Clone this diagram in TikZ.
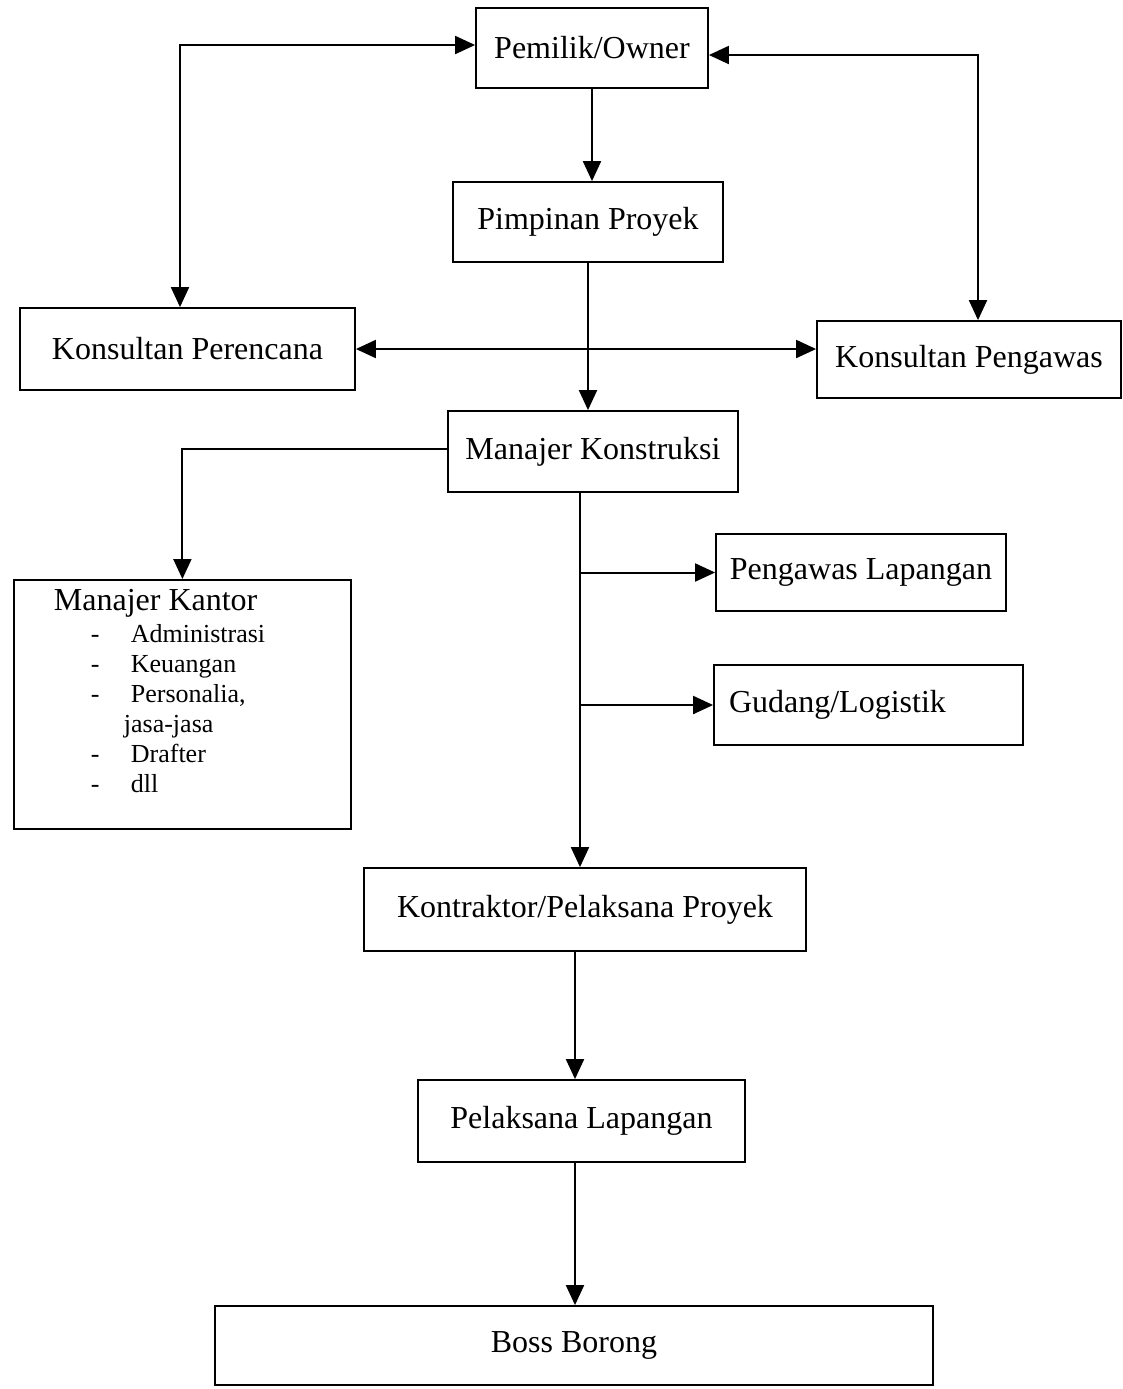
\documentclass[tikz,border=0pt]{standalone}
\usepackage{fontspec}
\setmainfont{Liberation Serif}
\usetikzlibrary{arrows.meta}

\tikzset{
  kotak/.style={draw, line width=0.9pt, font=\fontsize{16}{18}\selectfont},
  panah/.style={line width=1pt, -{Triangle[length=10pt,width=9pt]}},
  duapanah/.style={line width=1pt, {Triangle[length=10pt,width=9pt]}-{Triangle[length=10pt,width=9pt]}}
}
\newcommand{\butir}[1]{\hspace*{38.5pt}\makebox[20pt][l]{-}#1\par}

\begin{document}
\begin{tikzpicture}[x=0.5pt, y=-0.5pt]
  \useasboundingbox (0,0) rectangle (1123,1389);
  % kotak
  \node[kotak, minimum width=116pt, minimum height=40pt] (owner) at (592,48) {Pemilik/Owner};
  \node[kotak, minimum width=135pt, minimum height=40pt] (pimpinan) at (588,222) {Pimpinan Proyek};
  \node[kotak, minimum width=167.5pt, minimum height=41pt] (perencana) at (187.5,349) {Konsultan Perencana};
  \node[kotak, minimum width=152pt, minimum height=38.5pt] (pengawas) at (969,359.5) {Konsultan Pengawas};
  \node[kotak, minimum width=145pt, minimum height=40.5pt] (konstruksi) at (593,451.5) {Manajer Konstruksi};
  \node[kotak, minimum width=145pt, minimum height=38.5pt] (lapangan) at (861,572.5) {Pengawas Lapangan};
  \node[kotak, text width=139.5pt, inner xsep=7.5pt, align=left, minimum height=40pt] (gudang) at (868.5,705) {Gudang/Logistik};
  \node[kotak, anchor=north west, inner sep=0pt] (kantor) at (13,579) {%
    \begin{minipage}[t][124.5pt][t]{168.5pt}
      \hspace*{20pt}\rule{0pt}{15.5pt}Manajer Kantor\par
      \fontsize{13}{15}\selectfont\vspace{1pt}
      \butir{Administrasi}
      \butir{Keuangan}
      \butir{Personalia,}
      \hspace*{55pt}jasa-jasa\par
      \butir{Drafter}
      \butir{dll}
    \end{minipage}};
  \node[kotak, minimum width=221pt, minimum height=41.5pt] (kontraktor) at (585,909.5) {Kontraktor/Pelaksana Proyek};
  \node[kotak, minimum width=163.5pt, minimum height=41pt] (pelaksana) at (581.5,1121) {Pelaksana Lapangan};
  \node[kotak, minimum width=359pt, minimum height=39.5pt] (boss) at (574,1345.5) {Boss Borong};

  \coordinate (kiri) at (180,0);
  \coordinate (kanan) at (978,0);
  \coordinate (tulang) at (580,0);
  \coordinate (tulang2) at (575,0);

  % garis
  \draw[duapanah] ([yshift=1.5pt]owner.west) -| (perencana.north -| kiri);
  \draw[duapanah] ([yshift=-3.5pt]owner.east) -| (pengawas.north -| kanan);
  \draw[duapanah] (perencana.east) -- (perencana.east -| pengawas.west);
  \path[panah]
    (owner.south) edge (owner.south |- pimpinan.north)
    (pimpinan.south) edge (pimpinan.south |- konstruksi.north);
  \draw[panah] ([yshift=1.5pt]konstruksi.west) -| (kantor.north);
  \draw[panah] (konstruksi.south -| tulang) -- (kontraktor.north -| tulang);
  \path[panah]
    (tulang |- lapangan.west) edge (lapangan.west)
    (tulang |- gudang.west) edge (gudang.west)
    (kontraktor.south -| tulang2) edge (pelaksana.north -| tulang2)
    (pelaksana.south -| tulang2) edge (boss.north -| tulang2);
\end{tikzpicture}
\end{document}
